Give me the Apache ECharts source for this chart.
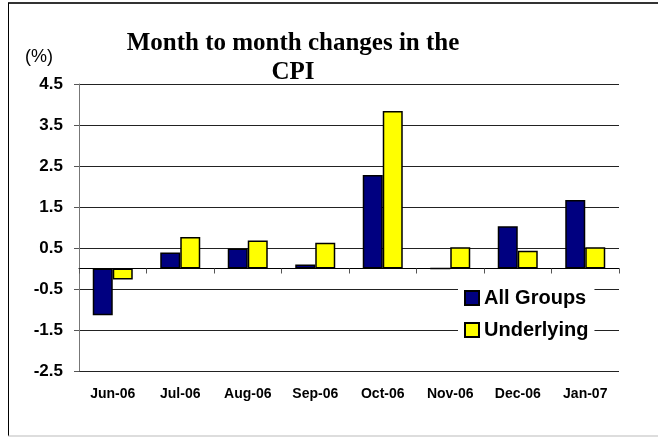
<!DOCTYPE html>
<html>
<head>
<meta charset="utf-8">
<script src="https://cdn.jsdelivr.net/npm/echarts@6/dist/echarts.min.js"></script>
<style>
  html, body { margin: 0; padding: 0; background: #fff; }
  #chart { width: 658px; height: 437px; }
</style>
</head>
<body>
<div id="chart"></div>
<script>
  // values
  const categories = ['Jun-06', 'Jul-06', 'Aug-06', 'Sep-06', 'Oct-06', 'Nov-06', 'Dec-06', 'Jan-07'];
  const allGroups = [-1.14, 0.39, 0.49, 0.1, 2.28, 0, 1.03, 1.67];
  const underlying = [-0.27, 0.77, 0.68, 0.63, 3.84, 0.52, 0.43, 0.52];
  const yMin = -2.5;
  const yMax = 4.5;
  const yStep = 1;

  const FONT = 'Arial, "Liberation Sans", sans-serif';
  const chart = echarts.init(document.getElementById('chart'));

  const option = {
    animation: false,
    backgroundColor: '#fff',
    title: {
      text: 'Month to month changes in the\nCPI',
      left: 288,
      top: 24,
      textAlign: 'center',
      textStyle: {
        fontFamily: '"Liberation Serif", "Times New Roman", serif',
        fontWeight: 'bold',
        fontSize: 25,
        lineHeight: 29,
        color: '#000'
      }
    },
    grid: { left: 79, right: 39, top: 84, bottom: 66 },
    legend: {
      orient: 'vertical',
      left: 458,
      top: 283,
      padding: [5, 6],
      itemWidth: 14,
      itemHeight: 14,
      itemGap: 12,
      itemTextGap: 4,
      backgroundColor: '#fff',
      icon: 'rect',
      textStyle: { fontFamily: FONT, fontWeight: 'bold', fontSize: 20, lineHeight: 20, color: '#000' },
      data: ['All Groups', 'Underlying']
    },
    xAxis: [
      {
        type: 'category',
        data: categories,
        position: 'bottom',
        axisLine: { show: false, onZero: false },
        axisTick: { show: false },
        axisLabel: { margin: 16, fontFamily: FONT, fontWeight: 'bold', fontSize: 14, color: '#000' }
      },
      {
        type: 'category',
        data: categories,
        position: 'bottom',
        axisLine: { show: true, onZero: true, lineStyle: { color: '#000', width: 1 } },
        axisTick: { show: true, length: 5, lineStyle: { color: '#555' } },
        axisLabel: { show: false }
      }
    ],
    yAxis: {
      type: 'value',
      min: yMin,
      max: yMax,
      interval: yStep,
      axisLine: { show: true, lineStyle: { color: '#777' } },
      axisTick: { show: true, length: 5, lineStyle: { color: '#555' } },
      axisLabel: {
        margin: 16,
        fontFamily: FONT,
        fontWeight: 'bold',
        fontSize: 17,
        color: '#000',
        formatter: v => v.toFixed(1)
      },
      splitLine: { show: true, lineStyle: { color: '#222', width: 1 } }
    },
    series: [
      {
        name: 'All Groups',
        type: 'bar',
        xAxisIndex: 0,
        data: allGroups,
        barWidth: 20,
        barGap: '0%',
        itemStyle: { color: '#000080', borderColor: '#000', borderWidth: 1.5 }
      },
      {
        name: 'Underlying',
        type: 'bar',
        xAxisIndex: 0,
        data: underlying,
        barWidth: 20,
        barGap: '0%',
        itemStyle: { color: '#ffff00', borderColor: '#000', borderWidth: 1.5 }
      }
    ],
    graphic: [
      {
        type: 'text',
        left: 25,
        top: 48,
        style: { text: '(%)', fontFamily: FONT, fontSize: 18, fill: '#000' }
      },
      // frame around the chart
      { type: 'line', shape: { x1: 8, y1: 3, x2: 658, y2: 3 }, style: { stroke: '#333', lineWidth: 2 } },
      { type: 'line', shape: { x1: 8.5, y1: 3, x2: 8.5, y2: 436 }, style: { stroke: '#000', lineWidth: 1 } },
      { type: 'line', shape: { x1: 8, y1: 436, x2: 658, y2: 436 }, style: { stroke: '#bbb', lineWidth: 1 } }
    ]
  };

  chart.setOption(option);
</script>
</body>
</html>
